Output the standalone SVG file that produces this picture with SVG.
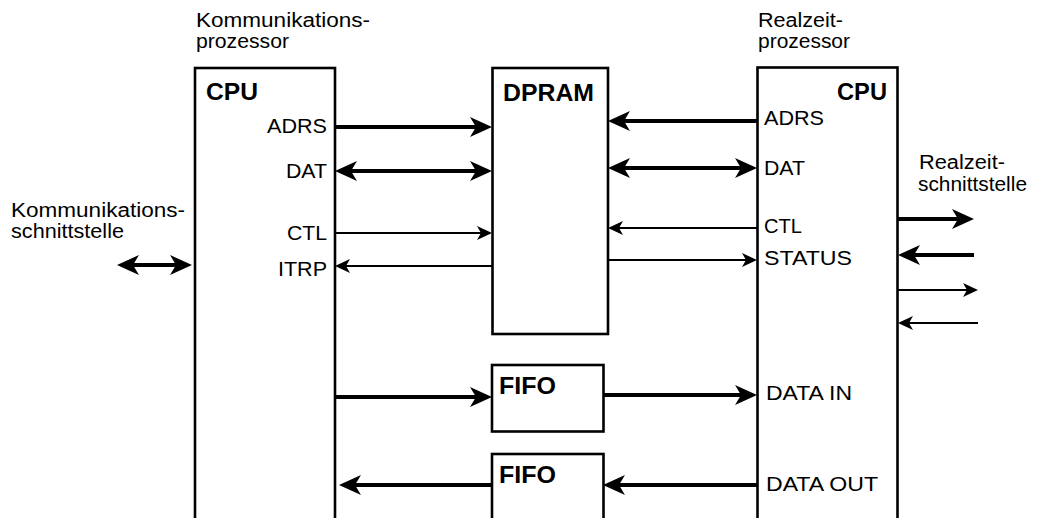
<svg xmlns="http://www.w3.org/2000/svg" width="1038" height="518" viewBox="0 0 1038 518">
<style>
  .box { fill: #fff; stroke: #000; stroke-width: 2.6; }
  .t { font-family: "Liberation Sans", Arial, sans-serif; font-size: 19.5px; fill: #000; }
  .b { font-family: "Liberation Sans", Arial, sans-serif; font-size: 23.5px; font-weight: bold; fill: #000; }
  .thick { fill: none; stroke: #000; stroke-width: 4; marker-end: url(#ahT); }
  .thin { fill: none; stroke: #000; stroke-width: 1.8; marker-end: url(#ahS); }
  .dbl { marker-start: url(#ahT); }
</style>
<defs>
  <marker id="ahT" viewBox="-14 -11 26 22" refX="0" refY="0" markerWidth="26" markerHeight="22" markerUnits="userSpaceOnUse" orient="auto-start-reverse">
    <path d="M10,0 L-12,-10 L-6,0 L-12,10 Z" fill="#000"/>
  </marker>
  <marker id="ahS" viewBox="-9 -8 18 16" refX="0" refY="0" markerWidth="18" markerHeight="16" markerUnits="userSpaceOnUse" orient="auto-start-reverse">
    <path d="M8,0 L-7,-7 L-3,0 L-7,7 Z" fill="#000"/>
  </marker>
</defs>
<rect width="1038" height="518" fill="#fff"/>

<g id="label-kp">
  <text class="t" x="196" y="27" textLength="174" lengthAdjust="spacingAndGlyphs">Kommunikations-</text>
  <text class="t" x="196" y="48" textLength="93" lengthAdjust="spacingAndGlyphs">prozessor</text>
</g>
<g id="label-rp">
  <text class="t" x="758" y="27" textLength="85" lengthAdjust="spacingAndGlyphs">Realzeit-</text>
  <text class="t" x="758" y="48" textLength="92" lengthAdjust="spacingAndGlyphs">prozessor</text>
</g>
<g id="label-ks">
  <text class="t" x="11" y="216.5" textLength="174" lengthAdjust="spacingAndGlyphs">Kommunikations-</text>
  <text class="t" x="11" y="237.5" textLength="113" lengthAdjust="spacingAndGlyphs">schnittstelle</text>
</g>
<g id="label-rs">
  <text class="t" x="919" y="169" textLength="86" lengthAdjust="spacingAndGlyphs">Realzeit-</text>
  <text class="t" x="918" y="191" textLength="109" lengthAdjust="spacingAndGlyphs">schnittstelle</text>
</g>

<g id="cpu-left">
  <rect class="box" x="195" y="68" width="140" height="470"/>
  <text class="b" x="206" y="100" textLength="52" lengthAdjust="spacingAndGlyphs">CPU</text>
  <text class="t" x="327" y="133" text-anchor="end" textLength="60" lengthAdjust="spacingAndGlyphs">ADRS</text>
  <text class="t" x="327" y="178" text-anchor="end" textLength="41" lengthAdjust="spacingAndGlyphs">DAT</text>
  <text class="t" x="327" y="240" text-anchor="end" textLength="40" lengthAdjust="spacingAndGlyphs">CTL</text>
  <text class="t" x="327" y="276" text-anchor="end" textLength="49" lengthAdjust="spacingAndGlyphs">ITRP</text>
</g>

<g id="dpram">
  <rect class="box" x="492.5" y="68" width="115.5" height="266"/>
  <text class="b" x="503" y="101" textLength="91" lengthAdjust="spacingAndGlyphs">DPRAM</text>
</g>

<g id="cpu-right">
  <rect class="box" x="757.5" y="67.5" width="140" height="470"/>
  <text class="b" x="887" y="100" text-anchor="end" textLength="50" lengthAdjust="spacingAndGlyphs">CPU</text>
  <text class="t" x="764" y="125" textLength="60" lengthAdjust="spacingAndGlyphs">ADRS</text>
  <text class="t" x="764" y="175" textLength="41" lengthAdjust="spacingAndGlyphs">DAT</text>
  <text class="t" x="764" y="233" textLength="38" lengthAdjust="spacingAndGlyphs">CTL</text>
  <text class="t" x="764" y="265" textLength="88" lengthAdjust="spacingAndGlyphs">STATUS</text>
  <text class="t" x="766" y="400" textLength="86" lengthAdjust="spacingAndGlyphs">DATA IN</text>
  <text class="t" x="766" y="491" textLength="112" lengthAdjust="spacingAndGlyphs">DATA OUT</text>
</g>

<g id="fifo-in">
  <rect class="box" x="492" y="365" width="111.5" height="66.5"/>
  <text class="b" x="499" y="394" textLength="57" lengthAdjust="spacingAndGlyphs">FIFO</text>
</g>

<g id="fifo-out">
  <rect class="box" x="492" y="454" width="111.5" height="90"/>
  <text class="b" x="499" y="483" textLength="57" lengthAdjust="spacingAndGlyphs">FIFO</text>
</g>

<g id="connectors">
  <path class="thick" d="M335,127 H482"/>
  <path class="thick dbl" d="M345,171 H482"/>
  <path class="thin" d="M335,233 H484"/>
  <path class="thin" d="M492,266 H343"/>
  <path class="thick" d="M757,121 H618"/>
  <path class="thick dbl" d="M618,168 H747"/>
  <path class="thin" d="M757,228 H616"/>
  <path class="thin" d="M608,260 H749"/>
  <path class="thick" d="M335,397 H482"/>
  <path class="thick" d="M603,395 H747"/>
  <path class="thick" d="M757,485 H613"/>
  <path class="thick" d="M492,485 H349"/>
  <path class="thick dbl" d="M127,265 H182"/>
  <path class="thick" d="M898,219 H964"/>
  <path class="thick" d="M974,255 H908"/>
  <path class="thin" d="M898,290 H970"/>
  <path class="thin" d="M978,323 H906"/>
</g>
</svg>
